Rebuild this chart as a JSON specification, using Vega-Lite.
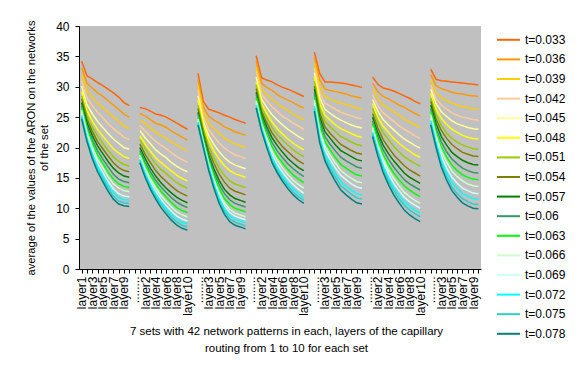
{
  "$schema": "https://vega.github.io/schema/vega-lite/v6.json",
  "width": 402,
  "height": 243,
  "autosize": {"type": "none"},
  "padding": {"left": 79, "top": 26, "right": 95, "bottom": 106},
  "background": "white",
  "config": {
    "font": "Liberation Sans",
    "view": {"fill": "#C0C0C0", "stroke": null}
  },
  "data": {"values": [
    {"s":1,"i":0,"t033":34.2,"t036":33.1,"t039":32.0,"t042":31.0,"t045":30.1,"t048":29.2,"t051":28.5,"t054":28.0,"t057":27.4,"t06":26.9,"t063":26.5,"t066":26.1,"t069":25.6,"t072":25.3,"t075":25.0,"t078":24.7},
    {"s":1,"i":1,"t033":31.8,"t036":30.6,"t039":29.3,"t042":28.2,"t045":27.1,"t048":26.1,"t051":25.3,"t054":24.7,"t057":24.1,"t06":23.5,"t063":23.0,"t066":22.6,"t069":22.0,"t072":21.6,"t075":21.3,"t078":21.0},
    {"s":1,"i":2,"t033":31.3,"t036":29.8,"t039":28.3,"t042":26.9,"t045":25.6,"t048":24.4,"t051":23.4,"t054":22.7,"t057":22.0,"t06":21.3,"t063":20.7,"t066":20.1,"t069":19.5,"t072":19.0,"t075":18.6,"t078":18.2},
    {"s":1,"i":3,"t033":30.7,"t036":29.0,"t039":27.3,"t042":25.8,"t045":24.3,"t048":23.0,"t051":21.9,"t054":21.0,"t057":20.3,"t06":19.5,"t063":18.8,"t066":18.1,"t069":17.4,"t072":16.9,"t075":16.4,"t078":16.0},
    {"s":1,"i":4,"t033":30.2,"t036":28.4,"t039":26.6,"t042":24.9,"t045":23.3,"t048":21.9,"t051":20.7,"t054":19.8,"t057":19.0,"t06":18.1,"t063":17.4,"t066":16.7,"t069":15.9,"t072":15.4,"t075":14.9,"t078":14.4},
    {"s":1,"i":5,"t033":29.6,"t036":27.7,"t039":25.8,"t042":23.9,"t045":22.3,"t048":20.8,"t051":19.5,"t054":18.6,"t057":17.7,"t06":16.8,"t063":15.9,"t066":15.2,"t069":14.4,"t072":13.8,"t075":13.3,"t078":12.8},
    {"s":1,"i":6,"t033":29.0,"t036":27.0,"t039":25.0,"t042":23.1,"t045":21.4,"t048":19.8,"t051":18.5,"t054":17.5,"t057":16.6,"t06":15.6,"t063":14.8,"t066":14.0,"t069":13.2,"t072":12.6,"t075":12.0,"t078":11.5},
    {"s":1,"i":7,"t033":28.3,"t036":26.3,"t039":24.3,"t042":22.4,"t045":20.7,"t048":19.1,"t051":17.7,"t054":16.7,"t057":15.8,"t06":14.8,"t063":14.0,"t066":13.3,"t069":12.4,"t072":11.8,"t075":11.2,"t078":10.7},
    {"s":1,"i":8,"t033":27.4,"t036":25.5,"t039":23.5,"t042":21.7,"t045":20.0,"t048":18.5,"t051":17.2,"t054":16.2,"t057":15.3,"t06":14.4,"t063":13.6,"t066":12.9,"t069":12.0,"t072":11.4,"t075":10.9,"t078":10.4},
    {"s":1,"i":9,"t033":26.9,"t036":25.0,"t039":23.1,"t042":21.3,"t045":19.7,"t048":18.2,"t051":16.9,"t054":16.0,"t057":15.1,"t06":14.2,"t063":13.4,"t066":12.7,"t069":11.9,"t072":11.3,"t075":10.8,"t078":10.3},
    {"s":2,"i":11,"t033":26.6,"t036":25.6,"t039":24.6,"t042":23.6,"t045":22.8,"t048":21.9,"t051":21.3,"t054":20.6,"t057":20.0,"t06":19.5,"t063":19.1,"t066":18.7,"t069":18.3,"t072":18.0,"t075":17.8,"t078":17.5},
    {"s":2,"i":12,"t033":26.4,"t036":25.2,"t039":24.0,"t042":22.7,"t045":21.6,"t048":20.6,"t051":19.8,"t054":18.9,"t057":18.2,"t06":17.6,"t063":17.1,"t066":16.6,"t069":16.1,"t072":15.8,"t075":15.4,"t078":15.1},
    {"s":2,"i":13,"t033":26.0,"t036":24.6,"t039":23.2,"t042":21.8,"t045":20.6,"t048":19.4,"t051":18.5,"t054":17.5,"t057":16.6,"t06":16.0,"t063":15.4,"t066":14.8,"t069":14.3,"t072":13.9,"t075":13.5,"t078":13.1},
    {"s":2,"i":14,"t033":25.5,"t036":24.0,"t039":22.5,"t042":21.0,"t045":19.6,"t048":18.3,"t051":17.3,"t054":16.2,"t057":15.3,"t06":14.6,"t063":14.0,"t066":13.4,"t069":12.8,"t072":12.3,"t075":11.9,"t078":11.5},
    {"s":2,"i":15,"t033":25.3,"t036":23.7,"t039":22.0,"t042":20.4,"t045":18.9,"t048":17.5,"t051":16.4,"t054":15.2,"t057":14.2,"t06":13.5,"t063":12.8,"t066":12.1,"t069":11.5,"t072":11.0,"t075":10.6,"t078":10.1},
    {"s":2,"i":16,"t033":25.0,"t036":23.3,"t039":21.5,"t042":19.8,"t045":18.3,"t048":16.8,"t051":15.7,"t054":14.4,"t057":13.3,"t06":12.6,"t063":11.8,"t066":11.1,"t069":10.4,"t072":10.0,"t075":9.5,"t078":9.0},
    {"s":2,"i":17,"t033":24.5,"t036":22.7,"t039":20.9,"t042":19.1,"t045":17.5,"t048":16.1,"t051":14.9,"t054":13.6,"t057":12.5,"t06":11.7,"t063":10.9,"t066":10.2,"t069":9.5,"t072":9.0,"t075":8.5,"t078":8.0},
    {"s":2,"i":18,"t033":24.0,"t036":22.2,"t039":20.4,"t042":18.5,"t045":16.9,"t048":15.4,"t051":14.2,"t054":12.9,"t057":11.8,"t06":11.0,"t063":10.1,"t066":9.4,"t069":8.7,"t072":8.2,"t075":7.7,"t078":7.2},
    {"s":2,"i":19,"t033":23.5,"t036":21.7,"t039":19.9,"t042":18.0,"t045":16.4,"t048":14.9,"t051":13.7,"t054":12.4,"t057":11.3,"t06":10.5,"t063":9.6,"t066":8.9,"t069":8.2,"t072":7.7,"t075":7.2,"t078":6.7},
    {"s":2,"i":20,"t033":23.0,"t036":21.2,"t039":19.4,"t042":17.6,"t045":16.0,"t048":14.5,"t051":13.3,"t054":12.0,"t057":10.9,"t06":10.1,"t063":9.3,"t066":8.6,"t069":7.9,"t072":7.4,"t075":6.9,"t078":6.4},
    {"s":3,"i":22,"t033":32.2,"t036":31.2,"t039":30.2,"t042":29.4,"t045":28.5,"t048":27.9,"t051":27.0,"t054":26.4,"t057":25.8,"t06":25.5,"t063":25.1,"t066":24.7,"t069":24.4,"t072":24.2,"t075":24.0,"t078":23.7},
    {"s":3,"i":23,"t033":27.6,"t036":26.7,"t039":25.9,"t042":25.1,"t045":24.3,"t048":23.7,"t051":23.0,"t054":22.5,"t057":21.9,"t06":21.6,"t063":21.2,"t066":20.9,"t069":20.7,"t072":20.4,"t075":20.2,"t078":20.0},
    {"s":3,"i":24,"t033":26.3,"t036":25.2,"t039":24.0,"t042":23.0,"t045":22.0,"t048":21.2,"t051":20.2,"t054":19.5,"t057":18.8,"t06":18.4,"t063":17.9,"t066":17.5,"t069":17.2,"t072":16.9,"t075":16.6,"t078":16.3},
    {"s":3,"i":25,"t033":26.0,"t036":24.5,"t039":23.1,"t042":21.8,"t045":20.5,"t048":19.5,"t051":18.3,"t054":17.4,"t057":16.5,"t06":15.9,"t063":15.3,"t066":14.8,"t069":14.4,"t072":14.0,"t075":13.7,"t078":13.3},
    {"s":3,"i":26,"t033":25.7,"t036":24.0,"t039":22.3,"t042":20.7,"t045":19.3,"t048":18.1,"t051":16.6,"t054":15.6,"t057":14.6,"t06":13.9,"t063":13.2,"t066":12.5,"t069":12.1,"t072":11.7,"t075":11.2,"t078":10.8},
    {"s":3,"i":27,"t033":25.3,"t036":23.4,"t039":21.6,"t042":19.9,"t045":18.3,"t048":17.0,"t051":15.4,"t054":14.3,"t057":13.1,"t06":12.4,"t063":11.6,"t066":10.9,"t069":10.4,"t072":9.9,"t075":9.5,"t078":9.0},
    {"s":3,"i":28,"t033":25.0,"t036":23.0,"t039":21.0,"t042":19.3,"t045":17.6,"t048":16.2,"t051":14.5,"t054":13.3,"t057":12.2,"t06":11.4,"t063":10.6,"t066":9.8,"t069":9.3,"t072":8.8,"t075":8.3,"t078":7.8},
    {"s":3,"i":29,"t033":24.6,"t036":22.6,"t039":20.6,"t042":18.8,"t045":17.1,"t048":15.7,"t051":14.0,"t054":12.8,"t057":11.6,"t06":10.8,"t063":10.0,"t066":9.2,"t069":8.7,"t072":8.2,"t075":7.7,"t078":7.2},
    {"s":3,"i":30,"t033":24.3,"t036":22.3,"t039":20.3,"t042":18.5,"t045":16.8,"t048":15.4,"t051":13.7,"t054":12.5,"t057":11.3,"t06":10.5,"t063":9.7,"t066":8.9,"t069":8.4,"t072":7.9,"t075":7.4,"t078":6.9},
    {"s":3,"i":31,"t033":24.0,"t036":22.0,"t039":20.0,"t042":18.2,"t045":16.5,"t048":15.1,"t051":13.4,"t054":12.2,"t057":11.0,"t06":10.2,"t063":9.4,"t066":8.6,"t069":8.1,"t072":7.6,"t075":7.1,"t078":6.6},
    {"s":4,"i":33,"t033":35.1,"t036":34.2,"t039":33.2,"t042":32.5,"t045":31.6,"t048":30.8,"t051":30.3,"t054":29.7,"t057":29.1,"t06":28.7,"t063":28.2,"t066":27.7,"t069":27.3,"t072":27.0,"t075":26.7,"t078":26.5},
    {"s":4,"i":34,"t033":31.5,"t036":30.6,"t039":29.6,"t042":28.8,"t045":28.0,"t048":27.2,"t051":26.6,"t054":26.0,"t057":25.5,"t06":25.0,"t063":24.5,"t066":24.0,"t069":23.6,"t072":23.3,"t075":23.0,"t078":22.8},
    {"s":4,"i":35,"t033":31.1,"t036":29.9,"t039":28.7,"t042":27.7,"t045":26.6,"t048":25.6,"t051":24.9,"t054":24.1,"t057":23.4,"t06":22.8,"t063":22.1,"t066":21.6,"t069":21.1,"t072":20.6,"t075":20.3,"t078":20.0},
    {"s":4,"i":36,"t033":30.8,"t036":29.4,"t039":27.9,"t042":26.7,"t045":25.4,"t048":24.2,"t051":23.3,"t054":22.4,"t057":21.6,"t06":20.8,"t063":20.1,"t066":19.4,"t069":18.8,"t072":18.3,"t075":17.9,"t078":17.5},
    {"s":4,"i":37,"t033":30.3,"t036":28.7,"t039":27.2,"t042":25.9,"t045":24.5,"t048":23.1,"t051":22.1,"t054":21.2,"t057":20.3,"t06":19.4,"t063":18.6,"t066":17.9,"t069":17.2,"t072":16.6,"t075":16.2,"t078":15.8},
    {"s":4,"i":38,"t033":29.9,"t036":28.2,"t039":26.6,"t042":25.1,"t045":23.7,"t048":22.2,"t051":21.2,"t054":20.1,"t057":19.2,"t06":18.3,"t063":17.4,"t066":16.6,"t069":15.9,"t072":15.3,"t075":14.8,"t078":14.4},
    {"s":4,"i":39,"t033":29.6,"t036":27.8,"t039":26.1,"t042":24.6,"t045":23.0,"t048":21.4,"t051":20.4,"t054":19.3,"t057":18.2,"t06":17.3,"t063":16.4,"t066":15.5,"t069":14.8,"t072":14.1,"t075":13.7,"t078":13.2},
    {"s":4,"i":40,"t033":29.2,"t036":27.4,"t039":25.5,"t042":24.0,"t045":22.4,"t048":20.7,"t051":19.6,"t054":18.5,"t057":17.4,"t06":16.5,"t063":15.5,"t066":14.6,"t069":13.9,"t072":13.2,"t075":12.7,"t078":12.2},
    {"s":4,"i":41,"t033":28.8,"t036":26.9,"t039":25.0,"t042":23.5,"t045":21.8,"t048":20.1,"t051":19.0,"t054":17.8,"t057":16.7,"t06":15.8,"t063":14.8,"t066":13.9,"t069":13.1,"t072":12.4,"t075":11.9,"t078":11.4},
    {"s":4,"i":42,"t033":28.4,"t036":26.5,"t039":24.6,"t042":23.0,"t045":21.3,"t048":19.6,"t051":18.5,"t054":17.3,"t057":16.2,"t06":15.2,"t063":14.2,"t066":13.3,"t069":12.5,"t072":11.8,"t075":11.3,"t078":10.8},
    {"s":5,"i":44,"t033":35.7,"t036":34.8,"t039":33.9,"t042":33.1,"t045":32.3,"t048":31.6,"t051":30.9,"t054":30.1,"t057":29.6,"t06":29.0,"t063":28.3,"t066":27.8,"t069":27.3,"t072":26.8,"t075":26.4,"t078":26.0},
    {"s":5,"i":45,"t033":32.2,"t036":31.1,"t039":30.1,"t042":29.1,"t045":28.2,"t048":27.3,"t051":26.5,"t054":25.7,"t057":25.0,"t06":24.3,"t063":23.5,"t066":22.9,"t069":22.3,"t072":21.7,"t075":21.3,"t078":20.8},
    {"s":5,"i":46,"t033":30.8,"t036":29.6,"t039":28.4,"t042":27.3,"t045":26.3,"t048":25.3,"t051":24.3,"t054":23.4,"t057":22.6,"t06":21.8,"t063":20.9,"t066":20.2,"t069":19.6,"t072":18.8,"t075":18.3,"t078":17.8},
    {"s":5,"i":47,"t033":30.8,"t036":29.4,"t039":28.0,"t042":26.8,"t045":25.6,"t048":24.5,"t051":23.4,"t054":22.3,"t057":21.5,"t06":20.5,"t063":19.6,"t066":18.7,"t069":18.0,"t072":17.2,"t075":16.6,"t078":16.0},
    {"s":5,"i":48,"t033":30.7,"t036":29.2,"t039":27.6,"t042":26.3,"t045":25.0,"t048":23.7,"t051":22.6,"t054":21.4,"t057":20.4,"t06":19.4,"t063":18.3,"t066":17.4,"t069":16.6,"t072":15.7,"t075":15.1,"t078":14.4},
    {"s":5,"i":49,"t033":30.6,"t036":29.0,"t039":27.3,"t042":25.8,"t045":24.5,"t048":23.1,"t051":21.8,"t054":20.5,"t057":19.5,"t06":18.4,"t063":17.2,"t066":16.2,"t069":15.4,"t072":14.4,"t075":13.7,"t078":13.0},
    {"s":5,"i":50,"t033":30.5,"t036":28.8,"t039":27.1,"t042":25.5,"t045":24.1,"t048":22.7,"t051":21.4,"t054":20.0,"t057":19.0,"t06":17.8,"t063":16.6,"t066":15.5,"t069":14.7,"t072":13.6,"t075":13.0,"t078":12.2},
    {"s":5,"i":51,"t033":30.3,"t036":28.5,"t039":26.8,"t042":25.2,"t045":23.7,"t048":22.3,"t051":20.9,"t054":19.5,"t057":18.5,"t06":17.3,"t063":16.0,"t066":14.9,"t069":14.0,"t072":13.0,"t075":12.3,"t078":11.5},
    {"s":5,"i":52,"t033":30.1,"t036":28.3,"t039":26.5,"t042":24.9,"t045":23.4,"t048":21.9,"t051":20.5,"t054":19.1,"t057":18.0,"t06":16.8,"t063":15.5,"t066":14.4,"t069":13.5,"t072":12.4,"t075":11.7,"t078":10.9},
    {"s":5,"i":53,"t033":29.9,"t036":28.1,"t039":26.3,"t042":24.7,"t045":23.2,"t048":21.7,"t051":20.3,"t054":18.9,"t057":17.8,"t06":16.6,"t063":15.3,"t066":14.2,"t069":13.3,"t072":12.2,"t075":11.5,"t078":10.7},
    {"s":6,"i":55,"t033":31.6,"t036":30.6,"t039":29.6,"t042":28.7,"t045":27.9,"t048":27.2,"t051":26.4,"t054":25.6,"t057":25.0,"t06":24.4,"t063":23.9,"t066":23.3,"t069":22.9,"t072":22.5,"t075":22.2,"t078":21.8},
    {"s":6,"i":56,"t033":30.4,"t036":29.2,"t039":28.0,"t042":26.9,"t045":26.0,"t048":25.0,"t051":24.1,"t054":23.2,"t057":22.4,"t06":21.8,"t063":21.1,"t066":20.4,"t069":19.9,"t072":19.5,"t075":19.1,"t078":18.6},
    {"s":6,"i":57,"t033":29.8,"t036":28.4,"t039":27.0,"t042":25.7,"t045":24.6,"t048":23.5,"t051":22.4,"t054":21.3,"t057":20.4,"t06":19.6,"t063":18.8,"t066":18.1,"t069":17.5,"t072":16.9,"t075":16.5,"t078":15.9},
    {"s":6,"i":58,"t033":29.6,"t036":28.0,"t039":26.4,"t042":25.0,"t045":23.7,"t048":22.5,"t051":21.3,"t054":20.0,"t057":19.0,"t06":18.1,"t063":17.2,"t066":16.3,"t069":15.7,"t072":15.0,"t075":14.5,"t078":13.9},
    {"s":6,"i":59,"t033":29.3,"t036":27.5,"t039":25.9,"t042":24.3,"t045":22.9,"t048":21.5,"t051":20.2,"t054":18.8,"t057":17.8,"t06":16.8,"t063":15.8,"t066":14.9,"t069":14.1,"t072":13.4,"t075":12.9,"t078":12.2},
    {"s":6,"i":60,"t033":28.9,"t036":27.0,"t039":25.3,"t042":23.6,"t045":22.1,"t048":20.7,"t051":19.3,"t054":17.9,"t057":16.8,"t06":15.7,"t063":14.7,"t066":13.7,"t069":12.9,"t072":12.2,"t075":11.6,"t078":10.9},
    {"s":6,"i":61,"t033":28.5,"t036":26.6,"t039":24.7,"t042":23.0,"t045":21.4,"t048":20.0,"t051":18.5,"t054":17.0,"t057":15.8,"t06":14.7,"t063":13.7,"t066":12.6,"t069":11.8,"t072":11.1,"t075":10.5,"t078":9.7},
    {"s":6,"i":62,"t033":28.1,"t036":26.1,"t039":24.2,"t042":22.5,"t045":20.9,"t048":19.4,"t051":17.9,"t054":16.3,"t057":15.1,"t06":14.0,"t063":13.0,"t066":11.9,"t069":11.1,"t072":10.3,"t075":9.7,"t078":8.9},
    {"s":6,"i":63,"t033":27.6,"t036":25.6,"t039":23.7,"t042":21.9,"t045":20.3,"t048":18.8,"t051":17.4,"t054":15.8,"t057":14.6,"t06":13.5,"t063":12.4,"t066":11.3,"t069":10.5,"t072":9.7,"t075":9.1,"t078":8.3},
    {"s":6,"i":64,"t033":27.2,"t036":25.2,"t039":23.3,"t042":21.5,"t045":19.9,"t048":18.4,"t051":16.9,"t054":15.3,"t057":14.1,"t06":13.0,"t063":11.9,"t066":10.8,"t069":10.0,"t072":9.2,"t075":8.6,"t078":7.8},
    {"s":7,"i":66,"t033":32.9,"t036":32.0,"t039":31.1,"t042":30.3,"t045":29.6,"t048":28.9,"t051":28.1,"t054":27.6,"t057":27.0,"t06":26.4,"t063":25.9,"t066":25.4,"t069":24.8,"t072":24.4,"t075":24.0,"t078":23.7},
    {"s":7,"i":67,"t033":31.2,"t036":30.2,"t039":29.0,"t042":28.0,"t045":27.2,"t048":26.3,"t051":25.4,"t054":24.7,"t057":24.0,"t06":23.2,"t063":22.6,"t066":22.0,"t069":21.4,"t072":20.9,"t075":20.4,"t078":20.0},
    {"s":7,"i":68,"t033":31.0,"t036":29.7,"t039":28.2,"t042":27.0,"t045":25.9,"t048":24.8,"t051":23.6,"t054":22.8,"t057":21.8,"t06":20.9,"t063":20.1,"t066":19.4,"t069":18.6,"t072":17.9,"t075":17.3,"t078":16.8},
    {"s":7,"i":69,"t033":30.9,"t036":29.4,"t039":27.7,"t042":26.3,"t045":25.1,"t048":23.8,"t051":22.4,"t054":21.5,"t057":20.4,"t06":19.3,"t063":18.4,"t066":17.6,"t069":16.6,"t072":15.9,"t075":15.2,"t078":14.6},
    {"s":7,"i":70,"t033":30.8,"t036":29.1,"t039":27.3,"t042":25.7,"t045":24.4,"t048":23.0,"t051":21.5,"t054":20.5,"t057":19.2,"t06":18.1,"t063":17.1,"t066":16.1,"t069":15.1,"t072":14.3,"t075":13.5,"t078":12.9},
    {"s":7,"i":71,"t033":30.7,"t036":28.9,"t039":27.0,"t042":25.3,"t045":23.9,"t048":22.5,"t051":20.9,"t054":19.8,"t057":18.5,"t06":17.3,"t063":16.2,"t066":15.2,"t069":14.1,"t072":13.3,"t075":12.4,"t078":11.8},
    {"s":7,"i":72,"t033":30.6,"t036":28.8,"t039":26.7,"t042":25.0,"t045":23.6,"t048":22.0,"t051":20.4,"t054":19.2,"t057":17.9,"t06":16.6,"t063":15.5,"t066":14.5,"t069":13.3,"t072":12.4,"t075":11.6,"t078":10.9},
    {"s":7,"i":73,"t033":30.5,"t036":28.6,"t039":26.6,"t042":24.8,"t045":23.3,"t048":21.7,"t051":20.1,"t054":18.9,"t057":17.5,"t06":16.2,"t063":15.1,"t066":14.0,"t069":12.9,"t072":12.0,"t075":11.1,"t078":10.4},
    {"s":7,"i":74,"t033":30.4,"t036":28.5,"t039":26.4,"t042":24.6,"t045":23.1,"t048":21.5,"t051":19.8,"t054":18.6,"t057":17.2,"t06":15.9,"t063":14.8,"t066":13.7,"t069":12.5,"t072":11.6,"t075":10.7,"t078":10.0},
    {"s":7,"i":75,"t033":30.3,"t036":28.4,"t039":26.3,"t042":24.5,"t045":23.0,"t048":21.4,"t051":19.7,"t054":18.5,"t057":17.1,"t06":15.8,"t063":14.7,"t066":13.6,"t069":12.4,"t072":11.5,"t075":10.6,"t078":9.9}
  ]},
  "transform": [
    {"fold": ["t033","t036","t039","t042","t045","t048","t051","t054","t057","t06","t063","t066","t069","t072","t075","t078"], "as": ["t","v"]}
  ],
  "mark": {"type": "line", "strokeWidth": 1.5},
  "encoding": {
    "x": {
      "field": "i", "type": "ordinal",
      "scale": {"type": "point", "padding": 0.5, "domain": [0,1,2,3,4,5,6,7,8,9,10,11,12,13,14,15,16,17,18,19,20,21,22,23,24,25,26,27,28,29,30,31,32,33,34,35,36,37,38,39,40,41,42,43,44,45,46,47,48,49,50,51,52,53,54,55,56,57,58,59,60,61,62,63,64,65,66,67,68,69,70,71,72,73,74,75]},
      "axis": {
        "labelExpr": "datum.value % 2 == 1 ? '' : ['layer1','layer3','layer5','layer7','layer9','........','layer2','layer4','layer6','layer8','layer10','........','layer3','layer5','layer7','layer9','........','layer2','layer4','layer6','layer8','layer10','........','layer3','layer5','layer7','layer9','........','layer2','layer4','layer6','layer8','layer10','........','layer3','layer5','layer7','layer9'][datum.value / 2]",
        "labelAngle": -90,
        "labelFontSize": 12,
        "labelColor": "black",
        "labelOverlap": false,
        "labelPadding": 3,
        "tickSize": 4,
        "tickColor": "black",
        "domainColor": "black",
        "grid": false,
        "title": ["7 sets with 42 network patterns in each, layers of the capillary", "routing from 1 to 10 for each set"],
        "titleFontSize": 11.5,
        "titleFontWeight": "normal",
        "titleColor": "black",
        "titleX": 207,
        "titleY": 65,
        "titleBaseline": "alphabetic",
        "titleLineHeight": 17
      }
    },
    "y": {
      "field": "v", "type": "quantitative",
      "scale": {"domain": [0, 40], "nice": false, "zero": true},
      "axis": {
        "values": [0,5,10,15,20,25,30,35,40],
        "grid": false,
        "labelFontSize": 12,
        "labelColor": "black",
        "labelPadding": 6,
        "tickSize": 4,
        "tickColor": "black",
        "domainColor": "black",
        "title": ["average of the values of the ARON on the networks", "of the set"],
        "titleFontSize": 11.2,
        "titleFontWeight": "normal",
        "titleColor": "black",
        "titleLineHeight": 13,
        "titlePadding": 6
      }
    },
    "color": {
      "field": "t", "type": "nominal",
      "scale": {
        "domain": ["t033","t036","t039","t042","t045","t048","t051","t054","t057","t06","t063","t066","t069","t072","t075","t078"],
        "range": ["#FF6600","#FF9900","#FFCC00","#FFCC99","#FFFF99","#FFFF00","#99CC00","#808000","#008000","#339966","#00FF00","#CCFFCC","#CCFFFF","#00FFFF","#33CCCC","#008080"]
      },
      "legend": {
        "orient": "none",
        "legendX": 417,
        "legendY": 1.3,
        "title": null,
        "symbolType": "stroke",
        "symbolSize": 529,
        "symbolStrokeWidth": 2,
        "labelFontSize": 12,
        "labelColor": "black",
        "labelOffset": 4,
        "rowPadding": 0.6,
        "padding": 0,
        "labelExpr": "'t=0.' + substring(datum.label, 1)"
      }
    },
    "detail": {"field": "s"}
  }
}
